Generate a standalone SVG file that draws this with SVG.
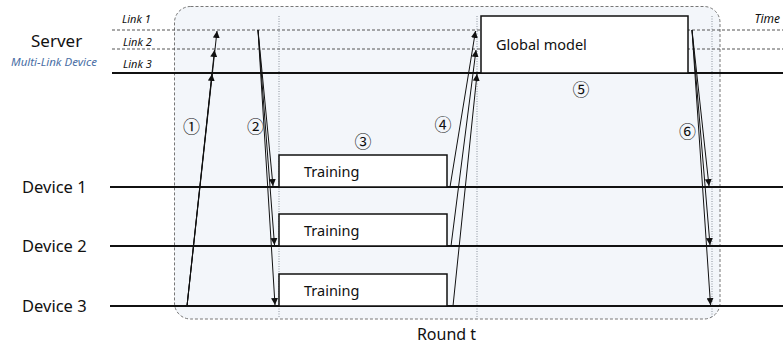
<svg xmlns="http://www.w3.org/2000/svg" width="783" height="345" viewBox="0 0 783 345">
<style>
.lbl{font-family:"Noto Sans","Liberation Sans",sans-serif;fill:#111}
.big{font-size:16.5px}
.link{font-family:"Noto Sans","Liberation Sans",sans-serif;font-size:11px;font-style:italic;fill:#111}
.num{font-family:"Noto Sans CJK SC","DejaVu Sans",sans-serif;font-size:17px;fill:#111;text-anchor:middle}
.box{fill:#fff;stroke:#111;stroke-width:1.5}
.solid{stroke:#111;stroke-width:1.8}
.dash{stroke:#555;stroke-width:1;stroke-dasharray:3 2}
.dot{stroke:#8a929c;stroke-width:1;stroke-dasharray:1 1.5}
.arr{stroke:#111;stroke-width:1;fill:none;marker-end:url(#ah)}
</style>
<defs>
<marker id="ah" viewBox="0 0 10 10" refX="10" refY="5" markerWidth="7" markerHeight="7" markerUnits="userSpaceOnUse" orient="auto">
<path d="M0,0 L10,5 L0,10 z" fill="#111"/>
</marker>
</defs>
<rect width="783" height="345" fill="#fff"/>
<g id="round">
<rect x="174.5" y="6.5" width="545.5" height="312.5" rx="16" fill="#f3f6fa" stroke="#777" stroke-width="1" stroke-dasharray="3 2"/>
<line class="dot" x1="279" y1="16" x2="279" y2="318"/>
<line class="dot" x1="477" y1="16" x2="477" y2="318"/>
<line class="dot" x1="712" y1="16" x2="712" y2="318"/>
</g>
<g id="server">
<text class="lbl" x="31" y="47" style="font-size:17px">Server</text>
<text x="11" y="66" font-family="Noto Sans, Liberation Sans, sans-serif" font-size="11.5" font-style="italic" fill="#4a6fa5">Multi-Link Device</text>
<text class="link" x="122" y="23">Link 1</text>
<text class="link" x="123" y="46">Link 2</text>
<text class="link" x="123" y="68">Link 3</text>
<text class="link" x="780" y="23" text-anchor="end" style="font-size:12px">Time</text>
<line class="dash" x1="112" y1="30" x2="783" y2="30"/>
<line class="dash" x1="112" y1="49" x2="783" y2="49"/>
<line class="solid" x1="112" y1="73" x2="783" y2="73"/>
</g>
<g id="device1">
<text class="lbl big" x="22" y="193">Device 1</text>
<line class="solid" x1="110" y1="187" x2="783" y2="187"/>
</g>
<g id="device2">
<text class="lbl big" x="22" y="252">Device 2</text>
<line class="solid" x1="110" y1="246" x2="783" y2="246"/>
</g>
<g id="device3">
<text class="lbl big" x="22" y="312">Device 3</text>
<line class="solid" x1="110" y1="306" x2="783" y2="306"/>
</g>
<g id="global-model">
<rect class="box" x="481" y="16" width="207" height="57"/>
<text class="lbl" x="496" y="50" style="font-size:14.5px">Global model</text>
</g>
<g id="training1">
<rect class="box" x="279" y="155" width="168" height="32"/>
<text class="lbl" x="304" y="177" style="font-size:14.5px">Training</text>
</g>
<g id="training2">
<rect class="box" x="279" y="214" width="168" height="32"/>
<text class="lbl" x="304" y="236" style="font-size:14.5px">Training</text>
</g>
<g id="training3">
<rect class="box" x="279" y="274" width="168" height="32"/>
<text class="lbl" x="304" y="296" style="font-size:14.5px">Training</text>
</g>
<g id="connectors">
<line class="arr" x1="187" y1="306" x2="212" y2="74"/>
<line class="arr" x1="187" y1="306" x2="214.5" y2="50"/>
<line class="arr" x1="187" y1="306" x2="217" y2="31"/>
<line class="arr" x1="258" y1="30" x2="273" y2="186"/>
<line class="arr" x1="258" y1="30" x2="274.5" y2="245"/>
<line class="arr" x1="258" y1="30" x2="275" y2="305"/>
<line class="arr" x1="450" y1="187" x2="475.5" y2="31"/>
<line class="arr" x1="451" y1="246" x2="476" y2="50"/>
<line class="arr" x1="453" y1="306" x2="477" y2="74"/>
<line class="arr" x1="692" y1="30" x2="709" y2="186"/>
<line class="arr" x1="692" y1="30" x2="710" y2="245"/>
<line class="arr" x1="692" y1="30" x2="710.5" y2="305"/>
</g>
<g id="labels">
<text class="num" x="191.5" y="133">①</text>
<text class="num" x="255.5" y="133">②</text>
<text class="num" x="363" y="148">③</text>
<text class="num" x="443" y="131">④</text>
<text class="num" x="581" y="96">⑤</text>
<text class="num" x="687.5" y="138">⑥</text>
<text class="lbl" x="446.5" y="340" text-anchor="middle" style="font-size:16px">Round t</text>
</g>
</svg>
